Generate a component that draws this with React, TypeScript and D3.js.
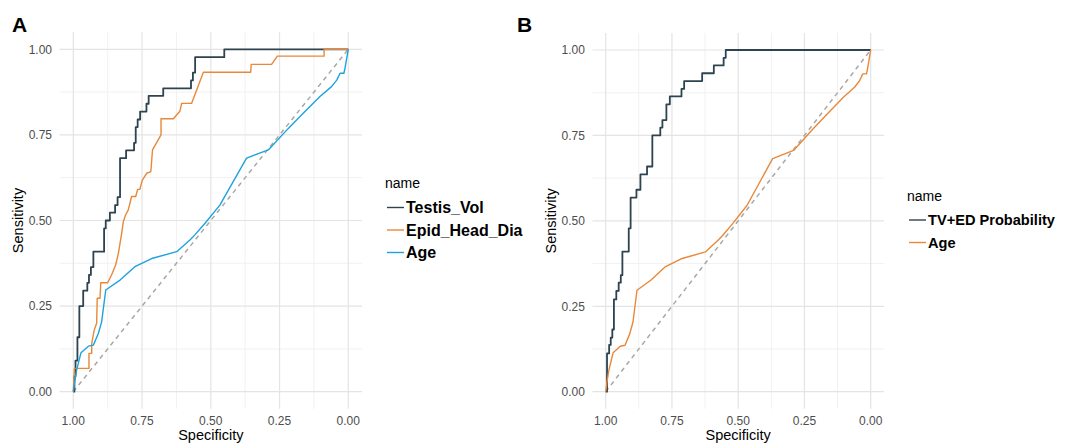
import React from "react";
import * as d3 from "d3";

// ROC points as [specificity, sensitivity]
const testisVol: [number, number][] = [
  [1, 0], [0.996, 0.045], [0.992, 0.091], [0.985, 0.159], [0.978, 0.25],
  [0.964, 0.295], [0.949, 0.318], [0.943, 0.341], [0.936, 0.364], [0.927, 0.409],
  [0.888, 0.477], [0.882, 0.5], [0.867, 0.523], [0.848, 0.545], [0.839, 0.568],
  [0.83, 0.682], [0.808, 0.705], [0.779, 0.727], [0.773, 0.773], [0.766, 0.795],
  [0.757, 0.818], [0.734, 0.841], [0.726, 0.864], [0.673, 0.886], [0.572, 0.909],
  [0.565, 0.932], [0.557, 0.977], [0.451, 1.0], [0, 1.0],
];

const epidHeadDia: [number, number][] = [
  [1, 0], [0.996, 0.068], [0.943, 0.068], [0.943, 0.112], [0.933, 0.112],
  [0.933, 0.141], [0.924, 0.18], [0.915, 0.2], [0.913, 0.273], [0.903, 0.273],
  [0.9, 0.318], [0.875, 0.318], [0.861, 0.341], [0.846, 0.37], [0.836, 0.404],
  [0.824, 0.463], [0.818, 0.497], [0.81, 0.516], [0.8, 0.531], [0.788, 0.57],
  [0.773, 0.57], [0.766, 0.591], [0.758, 0.591], [0.749, 0.618], [0.733, 0.638],
  [0.718, 0.643], [0.712, 0.706], [0.681, 0.75], [0.681, 0.797], [0.636, 0.797],
  [0.612, 0.82], [0.606, 0.842], [0.57, 0.842], [0.527, 0.933], [0.355, 0.933],
  [0.353, 0.956], [0.279, 0.956], [0.258, 0.98], [0.088, 0.98], [0.088, 1.0], [0, 1.0],
];

const age: [number, number][] = [
  [1, 0], [0.996, 0.024], [0.988, 0.063], [0.972, 0.114], [0.945, 0.133],
  [0.927, 0.136], [0.909, 0.17], [0.897, 0.204], [0.882, 0.297], [0.83, 0.326],
  [0.776, 0.365], [0.715, 0.389], [0.624, 0.409], [0.576, 0.443], [0.558, 0.458],
  [0.521, 0.492], [0.467, 0.545], [0.37, 0.682], [0.291, 0.706], [0.218, 0.769],
  [0.164, 0.813], [0.103, 0.862], [0.061, 0.891], [0.042, 0.91], [0.03, 0.93],
  [0.016, 0.93], [0.012, 0.945], [0, 1],
];

// TV+ED probability: step curve, points at top of each rise
const tvEdProb: [number, number][] = [
  [1, 0], [0.995, 0.112], [0.987, 0.137], [0.981, 0.158], [0.975, 0.182],
  [0.969, 0.27], [0.96, 0.295], [0.951, 0.319], [0.943, 0.341], [0.937, 0.41],
  [0.913, 0.478], [0.906, 0.568], [0.884, 0.591], [0.869, 0.636], [0.844, 0.659],
  [0.824, 0.75], [0.794, 0.773], [0.786, 0.795], [0.771, 0.841], [0.758, 0.864],
  [0.714, 0.886], [0.704, 0.909], [0.636, 0.932], [0.592, 0.955], [0.555, 0.977],
  [0.547, 1.0], [0, 1.0],
];

const majorTicks = [1, 0.75, 0.5, 0.25, 0];
const minorTicks = [0.875, 0.625, 0.375, 0.125];

const DARK = "#2d4350";
const ORANGE = "#e8883a";
const BLUE = "#1ca3dc";

const FONT = "'Liberation Sans', Arial, sans-serif";
const fmt = d3.format(".2f");

type Series = { name: string; data: [number, number][]; color: string; width: number; step?: boolean };

function Panel(props: {
  label: string; labelX: number;
  x0: number; x1: number; y0: number; y1: number;
  series: Series[]; legendX: number; legendY: number; legendSize: number;
}) {
  const { x0, x1, y0, y1 } = props;
  const x = d3.scaleLinear().domain([1, 0]).range([x0, x1]);
  const y = d3.scaleLinear().domain([0, 1]).range([y0, y1]);
  const left = x(1.05), right = x(-0.05), top = y(1.05), bottom = y(-0.05);
  const midX = (left + right) / 2, midY = (top + bottom) / 2;

  return (
    <g>
      <text x={props.labelX} y={32} fontSize={21} fontWeight="bold" fontFamily={FONT}>{props.label}</text>
      {minorTicks.map(t => (
        <g key={"m" + t}>
          <line x1={x(t)} x2={x(t)} y1={top} y2={bottom} stroke="#efefef" strokeWidth={0.9} />
          <line x1={left} x2={right} y1={y(t)} y2={y(t)} stroke="#efefef" strokeWidth={0.9} />
        </g>
      ))}
      {majorTicks.map(t => (
        <g key={"M" + t}>
          <line x1={x(t)} x2={x(t)} y1={top} y2={bottom} stroke="#e4e4e4" strokeWidth={1.2} />
          <line x1={left} x2={right} y1={y(t)} y2={y(t)} stroke="#e4e4e4" strokeWidth={1.2} />
          <text x={left - 7.5} y={y(t) + 4.3} textAnchor="end" fontSize={12} fill="#4d4d4d" fontFamily={FONT}>{fmt(t)}</text>
          <text x={x(t)} y={424.5} textAnchor="middle" fontSize={12} fill="#4d4d4d" fontFamily={FONT}>{fmt(t)}</text>
        </g>
      ))}
      <line x1={x(1)} y1={y(0)} x2={x(0)} y2={y(1)} stroke="#a8a8a8" strokeWidth={1.5} strokeDasharray="4.5,4" />
      {props.series.map(s => {
        const line = d3.line<[number, number]>()
          .x(d => x(d[0]))
          .y(d => y(d[1]))
          .curve(s.step ? d3.curveStepAfter : d3.curveLinear);
        return <path key={s.name} d={line(s.data) || ""} fill="none" stroke={s.color} strokeWidth={s.width} strokeLinejoin="round" />;
      })}
      <text x={midX} y={440} textAnchor="middle" fontSize={14.5} fontFamily={FONT}>Specificity</text>
      <text transform={`translate(${left - 36.5},${midY}) rotate(-90)`} textAnchor="middle" fontSize={14.5} fontFamily={FONT}>Sensitivity</text>
      <g transform={`translate(${props.legendX},${props.legendY})`}>
        <text x={0} y={5} fontSize={14} fontFamily={FONT}>name</text>
        {props.series.map((s, i) => (
          <g key={s.name} transform={`translate(0,${24.5 + i * 22.5})`}>
            <line x1={2} x2={19} y1={0} y2={0} stroke={s.color} strokeWidth={1.4} />
            <text x={21} y={props.legendSize * 0.36} fontSize={props.legendSize} fontWeight="bold" fontFamily={FONT}>{s.name}</text>
          </g>
        ))}
      </g>
    </g>
  );
}

export default function App() {
  return (
    <svg width={1066} height={443} style={{ position: "absolute", left: 0, top: 0, background: "#fff" }}>
      <Panel label="A" labelX={12} x0={73.3} x1={348.3} y0={391.7} y1={49.3}
        legendX={385} legendY={183} legendSize={16}
        series={[
          { name: "Testis_Vol", data: testisVol, color: DARK, width: 1.8, step: true },
          { name: "Epid_Head_Dia", data: epidHeadDia, color: ORANGE, width: 1.4 },
          { name: "Age", data: age, color: BLUE, width: 1.4 },
        ]} />
      <Panel label="B" labelX={517} x0={605.7} x1={870.7} y0={391.7} y1={50}
        legendX={907} legendY={195.5} legendSize={14.6}
        series={[
          { name: "TV+ED Probability", data: tvEdProb, color: DARK, width: 1.8, step: true },
          { name: "Age", data: age, color: ORANGE, width: 1.4 },
        ]} />
    </svg>
  );
}
